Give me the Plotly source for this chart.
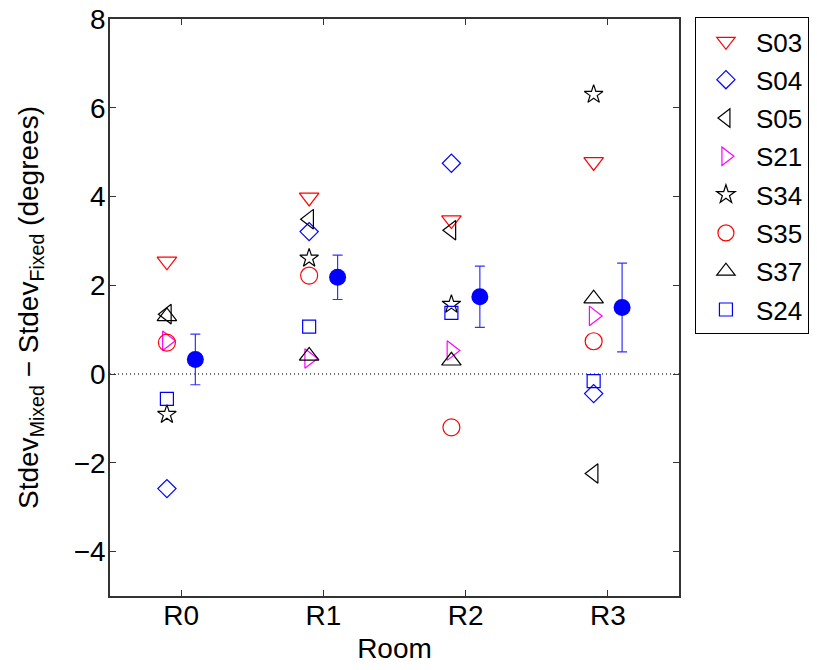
import plotly.graph_objects as go

rooms = ["R0", "R1", "R2", "R3"]
room_idx = [0, 1, 2, 3]

subjects = ["S03", "S04", "S05", "S21", "S34", "S35", "S37", "S24"]
values = {
    "S03": [2.54, 3.98, 3.47, 4.78],
    "S04": [-2.58, 3.21, 4.75, -0.44],
    "S05": [1.35, 3.49, 3.24, -2.24],
    "S21": [0.75, 0.35, 0.53, 1.31],
    "S34": [-0.91, 2.61, 1.57, 6.30],
    "S35": [0.71, 2.22, -1.20, 0.74],
    "S37": [1.30, 0.41, 0.30, 1.70],
    "S24": [-0.56, 1.07, 1.38, -0.16],
}
mean_vals = [0.33, 2.18, 1.74, 1.50]
err_vals = [0.57, 0.50, 0.69, 1.00]

symbols = {
    "S03": "triangle-down-open", "S04": "diamond-open", "S05": "triangle-left-open",
    "S21": "triangle-right-open", "S34": "star-open", "S35": "circle-open",
    "S37": "triangle-up-open", "S24": "square-open",
}
colors = {
    "S03": "#ff0000", "S04": "#0000ff", "S05": "#000000", "S21": "#ff00ff",
    "S34": "#000000", "S35": "#ff0000", "S37": "#000000", "S24": "#0000ff",
}
sizes = {
    "S03": 17, "S04": 14, "S05": 17, "S21": 17, "S34": 14, "S35": 17,
    "S37": 17, "S24": 13,
}

fig = go.Figure()

# zero dotted line
fig.add_trace(go.Scatter(x=[-0.5, 3.5], y=[0, 0], mode="lines",
                         line=dict(color="#444444", width=1.5, dash="1px,3px"),
                         showlegend=False, hoverinfo="skip"))

for s in subjects:
    fig.add_trace(go.Scatter(
        x=[r - 0.1 for r in room_idx], y=values[s], mode="markers", name=s,
        legendgroup=s,
        marker=dict(symbol=symbols[s], size=sizes[s], color=colors[s],
                    line=dict(width=1.2, color=colors[s])),
    ))

fig.add_trace(go.Scatter(
    x=[r + 0.1 for r in room_idx], y=mean_vals, mode="markers", showlegend=False,
    marker=dict(symbol="circle", size=17, color="#0000ff"),
    error_y=dict(type="data", array=err_vals, visible=True, color="#3333ff",
                 thickness=1.2, width=5),
))

fig.update_layout(
    width=817, height=670,
    margin=dict(l=102, r=146, t=11, b=82, autoexpand=False),
    paper_bgcolor="white", plot_bgcolor="white",
    font=dict(family="Liberation Sans, Arial, sans-serif", size=28, color="black"),
    xaxis=dict(range=[-0.5, 3.5], tickvals=room_idx, ticktext=rooms,
               ticks="inside", ticklen=6, tickcolor="#333333", mirror="ticks",
               showline=True, linecolor="#333333", linewidth=1.5,
               showgrid=False, zeroline=False, ticklabelstandoff=-6,
               ticklabeloverflow="allow",
               tickfont=dict(size=28),
               title=dict(text="Room", standoff=8, font=dict(size=28))),
    yaxis=dict(range=[-5, 8], tickvals=[-4, -2, 0, 2, 4, 6, 8],
               ticks="inside", ticklen=6, tickcolor="#333333", mirror="ticks",
               showline=True, linecolor="#333333", linewidth=1.5,
               showgrid=False, zeroline=False, ticklabelstandoff=-3,
               ticklabeloverflow="allow",
               tickfont=dict(size=28),
               title=dict(text="Stdev<sub>Mixed</sub> \u2212 Stdev<sub>Fixed</sub> (degrees)",
                          standoff=27, font=dict(size=28))),
    legend=dict(x=1.028, y=1.0035, xanchor="left", yanchor="top",
                bordercolor="black", borderwidth=1, bgcolor="white",
                font=dict(size=26), tracegroupgap=1.5, itemwidth=50),
    showlegend=True,
)

fig.write_html("out.html")
